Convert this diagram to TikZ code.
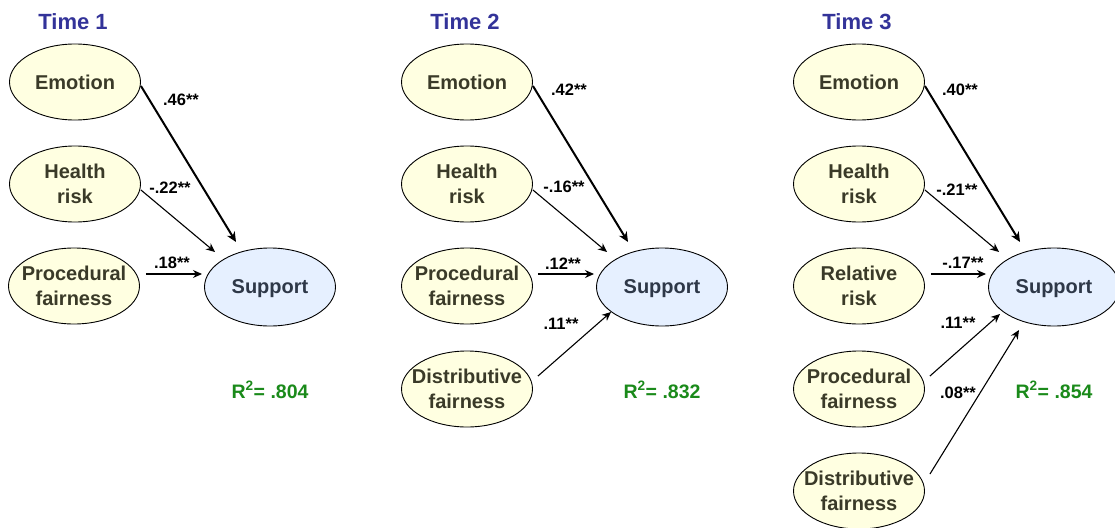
\documentclass[tikz,border=0pt]{standalone}
\usepackage{fontspec}
\setmainfont{Liberation Sans}
\usetikzlibrary{shapes.geometric,arrows.meta}
\definecolor{predfill}{HTML}{FFFFE1}
\definecolor{predtext}{HTML}{3A3A28}
\definecolor{supfill}{HTML}{E6F0FF}
\definecolor{suptext}{HTML}{2E3848}
\definecolor{titleblue}{HTML}{333399}
\definecolor{rgreen}{HTML}{1A8A1A}
\tikzset{
  pred/.style={ellipse,draw=black,line width=0.9pt,fill=predfill,minimum width=131,minimum height=76,inner xsep=-14pt,inner ysep=0pt,align=center,
    font=\fontsize{20}{25}\selectfont\bfseries,text=predtext},
  supp/.style={ellipse,draw=black,line width=0.9pt,fill=supfill,minimum width=131,minimum height=78,inner sep=0pt,text depth=0pt,
    font=\fontsize{20}{25}\selectfont\bfseries,text=suptext},
  ttl/.style={font=\fontsize{22}{25}\selectfont\bfseries,text=titleblue},
  coef/.style={font=\fontsize{16.5}{18}\selectfont\bfseries,text=black},
  rsq/.style={font=\fontsize{19.5}{22}\selectfont\bfseries,text=rgreen},
  thin/.style={line width=1.1pt,-{Stealth[length=9pt,width=8pt]}},
  thick/.style={line width=2pt,-{Stealth[length=10pt,width=9pt]}},
}
\begin{document}
\begin{tikzpicture}[x=1pt,y=-1pt]
\useasboundingbox (0,0) rectangle (1115,527);
% ---------- Time 1
\node[ttl] (t1) at (73,22) {Time 1};
\node[pred] (e1) at (75,82) {Emotion};
\node[pred] (h1) at (75,184) {Health\\risk};
\node[pred] (p1) at (74,286) {Procedural\\fairness};
\node[supp] (s1) at (270,287) {Support};
\node[rsq] (r1) at (270,390) {R$^{\mathbf{2}}$= .804};
\draw[thick] ([shift={(0,4)}]e1.east) -- ([shift={(-34,-45)}]s1.center);
\draw[thin] ([shift={(0,6)}]h1.east) -- ([shift={(-55,-35)}]s1.center);
\draw[thin] ([shift={(6,-12)}]p1.east) -- ([shift={(-68,-13)}]s1.center);
\node[coef] (c11) at (181,100) {.46**};
\node[coef] (c12) at (170,188) {-.22**};
\node[coef] (c13) at (172,263) {.18**};
% ---------- Time 2
\node[ttl] (t2) at (465,22) {Time 2};
\node[pred] (e2) at (467,82) {Emotion};
\node[pred] (h2) at (467,184) {Health\\risk};
\node[pred] (p2) at (467,286) {Procedural\\fairness};
\node[pred] (d2) at (467,389) {Distributive\\fairness};
\node[supp] (s2) at (662,287) {Support};
\node[rsq] (r2) at (662,390) {R$^{\mathbf{2}}$= .832};
\draw[thick] ([shift={(0,4)}]e2.east) -- ([shift={(-34,-45)}]s2.center);
\draw[thin] ([shift={(0,6)}]h2.east) -- ([shift={(-55,-35)}]s2.center);
\draw[thin] ([shift={(5,-12)}]p2.east) -- ([shift={(-68,-13)}]s2.center);
\draw[thin] ([shift={(5,-13)}]d2.east) -- ([shift={(-51,25)}]s2.center);
\node[coef] (c21) at (569,90) {.42**};
\node[coef] (c22) at (564,187) {-.16**};
\node[coef] (c23) at (563,264) {.12**};
\node[coef] (c24) at (561,324) {.11**};
% ---------- Time 3
\node[ttl] (t3) at (857,22) {Time 3};
\node[pred] (e3) at (859,82) {Emotion};
\node[pred] (h3) at (859,184) {Health\\risk};
\node[pred] (rr3) at (859,286) {Relative\\risk};
\node[pred] (p3) at (859,389) {Procedural\\fairness};
\node[pred] (d3) at (859,491) {Distributive\\fairness};
\node[supp] (s3) at (1054,287) {Support};
\node[rsq] (r3) at (1054,390) {R$^{\mathbf{2}}$= .854};
\draw[thick] ([shift={(0,4)}]e3.east) -- ([shift={(-34,-45)}]s3.center);
\draw[thin] ([shift={(0,6)}]h3.east) -- ([shift={(-55,-35)}]s3.center);
\draw[thin] ([shift={(6,-12)}]rr3.east) -- ([shift={(-68,-13)}]s3.center);
\draw[thin] ([shift={(5,-13)}]p3.east) -- ([shift={(-54,27)}]s3.center);
\draw[thin] ([shift={(5,-17)}]d3.east) -- ([shift={(-35,43)}]s3.center);
\node[coef] (c31) at (960,90) {.40**};
\node[coef] (c32) at (957,190) {-.21**};
\node[coef] (c33) at (963,263) {-.17**};
\node[coef] (c34) at (958,323) {.11**};
\node[coef] (c35) at (958,393) {.08**};
\end{tikzpicture}
\end{document}
